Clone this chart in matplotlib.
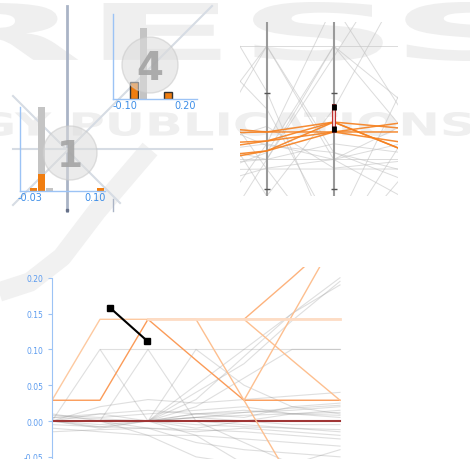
import matplotlib
matplotlib.use('Agg')
import matplotlib.pyplot as plt
import numpy as np
from matplotlib.patches import Circle, Rectangle, PathPatch
from matplotlib.textpath import TextPath
from matplotlib.font_manager import FontProperties
from matplotlib.transforms import Affine2D

nan = np.nan

# ---- data ----
# histogram "1"
h1_centers = [-0.023, -0.007, 0.009, 0.111]
h1_all = [0, 25, 1, 0]
h1_sel = [1, 5, 0, 1]
h1_ticks = [-0.03, 0.10]
h1_labels = ['-0.03', '0.10']

# histogram "4"
h4_all_centers = [-0.0075]
h4_all = [21]
h4_sel_centers = [-0.055, 0.115]
h4_sel = [5, 2]
h4_ticks = [-0.10, 0.20]
h4_labels = ['-0.10', '0.20']

# parallel coordinates (normalised value on each axis)
pc_axes = [0, 1, 2, 3]
pc_orange = [
    [0.36, 0.368, 0.425, 0.39],
    [0.40, 0.368, 0.368, 0.31],
    [0.30, 0.316, 0.425, 0.27],
    [0.26, 0.316, 0.368, 0.42],
    [0.22, 0.259, 0.368, 0.368],
    [0.19, 0.259, 0.425, 0.27],
]
pc_gray = [
    [0.862, 0.862, 0.862, 0.862],
    [0.35, 0.862, 0.21, 0.40],
    [0.20, 0.862, 0.25, 0.10],
    [0.30, 0.21, 0.862, 0.40],
    [0.10, 0.25, 0.862, 0.55],
    [0.21, 0.21, 0.21, 0.21],
    [0.15, 0.155, 0.155, 0.155],
    [1.25, 0.60, -0.30, 0.30],
    [-0.25, 0.30, 1.10, 0.50],
    [0.25, 0.30, 0.21, 0.00],
    [0.45, 0.29, 0.25, 0.15],
    [0.28, 0.40, 0.16, 0.20],
    [0.60, 0.00, 0.50, 1.20],
    [0.90, 0.50, -0.20, 0.60],
    [0.18, 0.21, 0.30, 0.25],
    [0.05, 0.16, 0.21, 0.30],
    [-0.40, 0.21, 0.80, 1.40],
    [0.70, 0.155, -0.35, 0.10],
]
pc_ticks = [0.592, 0.04]
brush = (0.368, 0.529)

# line chart
steps = [0, 1, 2, 3, 4, 5, 6]
orange_series = [
    [0.029, 0.142, 0.142, 0.142, 0.142, 0.142, 0.142],
    [0.029, 0.029, 0.142, 0.085, 0.029, 0.029, 0.029],
    [nan, nan, 0.142, 0.142, 0.029, -0.085, nan],
    [nan, nan, nan, nan, 0.029, 0.147, 0.265],
    [nan, nan, nan, nan, 0.142, 0.200, 0.260],
    [nan, nan, nan, nan, 0.142, 0.085, 0.029],
]
gray_series = [
    [0.000, 0.000, 0.000, 0.005, 0.008, 0.010, 0.012],
    [0.005, 0.003, 0.000, -0.005, -0.008, -0.010, -0.015],
    [-0.005, -0.008, 0.000, 0.010, 0.012, 0.015, 0.020],
    [0.010, 0.000, -0.010, -0.012, -0.015, -0.020, -0.025],
    [0.000, 0.100, 0.000, 0.010, 0.015, 0.010, 0.005],
    [0.000, 0.000, 0.100, 0.000, -0.005, -0.010, -0.012],
    [0.000, 0.000, 0.000, 0.100, 0.050, 0.020, 0.010],
    [nan, 0.100, 0.100, 0.100, 0.100, 0.100, 0.100],
    [0.000, 0.000, 0.000, 0.040, 0.080, 0.140, 0.195],
    [0.000, 0.000, 0.000, 0.030, 0.090, 0.150, 0.200],
    [0.000, -0.010, 0.000, 0.050, 0.100, 0.150, 0.190],
    [0.000, 0.000, -0.020, -0.050, -0.060, -0.070, -0.080],
    [-0.010, -0.015, -0.020, -0.020, -0.025, -0.030, -0.035],
    [0.005, 0.010, 0.015, 0.010, 0.005, 0.020, 0.025],
    [-0.015, -0.012, -0.010, -0.030, -0.040, -0.045, -0.050],
    [0.000, 0.020, 0.030, 0.025, 0.030, 0.035, 0.040],
    [0.000, 0.000, 0.000, -0.010, 0.000, 0.010, 0.015],
    [0.000, -0.005, 0.000, 0.005, 0.000, -0.005, -0.005],
    [0.000, 0.000, 0.000, 0.020, 0.060, 0.100, 0.100],
    [0.000, 0.000, 0.000, -0.020, -0.060, -0.060, -0.040],
    [0.000, 0.010, 0.000, 0.005, 0.012, 0.018, 0.022],
    [0.000, -0.008, -0.010, -0.015, -0.010, -0.015, -0.020],
    [0.000, 0.000, 0.000, 0.000, -0.030, -0.060, -0.080],
    [0.008, 0.005, 0.010, 0.015, 0.020, 0.010, 0.008],
]
baseline = [0, 0, 0, 0, 0, 0, 0]
drag_x = [1.21, 1.98]
drag_y = [0.158, 0.112]
y_ticks = [-0.05, 0.00, 0.05, 0.10, 0.15, 0.20]

# ---- figure ----
W, H = 470, 460
fig = plt.figure(figsize=(4.7, 4.6), dpi=100)

def px_axes(x0, y0, x1, y1, z=2):
    ax = fig.add_axes([x0 / W, 1 - y1 / H, (x1 - x0) / W, (y1 - y0) / H], zorder=z)
    ax.patch.set_alpha(0)
    return ax

bg = fig.add_axes([0, 0, 1, 1], zorder=0)
bg.set_xlim(0, W)
bg.set_ylim(H, 0)
bg.axis('off')

# watermark
def wide_text(s, x0, x1, ytop, ybot, color):
    tp = TextPath((0, 0), s, size=100, prop=FontProperties(family='DejaVu Sans', weight='bold'))
    bb = tp.get_extents()
    tr = Affine2D().translate(-bb.x0, -bb.y0).scale((x1 - x0) / bb.width, -(ybot - ytop) / bb.height).translate(x0, ybot)
    bg.add_patch(PathPatch(tr.transform_path(tp), fc=color, ec='none', zorder=0))

wm = '#efefef'
wide_text('RESS', -70, 535, 3, 62, wm)
wide_text('GY PUBLICATIONS', -22, 472, 113, 137, wm)
bg.plot([150, 97, 62, 30, -10], [150, 212, 258, 283, 296], color='#f1f1f1', lw=14,
        solid_capstyle='butt', zorder=0)

# star of guide lines behind the small multiples
bg.plot([67, 67], [7, 212], color='#aab4c6', lw=2, zorder=1)
bg.plot([13, 212], [150, 150], color='#d6dce4', lw=1.5, zorder=1)
bg.plot([212, 13], [7, 206], color='#d6dce4', lw=1.5, zorder=1)
bg.plot([13, 120], [97, 204], color='#d6dce4', lw=1.5, zorder=1)
bg.plot([113, 113], [200, 212], color='#aab4c6', lw=1, zorder=1)
bg.plot([67], [211], 's', color='#667088', ms=2, zorder=1)

blue = '#3d8ee8'
lblue = '#9cc3f5'

def hist_style(ax, ticks, labels, xlim):
    ax.set_xlim(*xlim)
    ax.set_ylim(0, 25)
    for s in ['top', 'right']:
        ax.spines[s].set_visible(False)
    for s in ['left', 'bottom']:
        ax.spines[s].set_color(lblue)
        ax.spines[s].set_linewidth(1)
    ax.set_yticks([])
    ax.set_xticks(ticks)
    ax.set_xticklabels(labels)
    ax.tick_params(axis='x', length=0, pad=1, labelsize=7, labelcolor=blue)

a1 = px_axes(20, 108, 105, 192)
a1.bar(h1_centers, h1_all, width=0.014, color='#c4c4c4', zorder=1)
a1.bar(h1_centers, h1_sel, width=0.014, color='#f07d10', zorder=2)
hist_style(a1, h1_ticks, h1_labels, (-0.05, 0.12))

a4 = px_axes(113, 15, 197, 100)
a4.bar(h4_all_centers, h4_all, width=0.035, color='#c4c4c4', zorder=1)
a4.bar(h4_sel_centers, h4_sel, width=0.04, color='#f07d10', edgecolor='#333333', lw=1, zorder=2)
hist_style(a4, h4_ticks, h4_labels, (-0.16, 0.26))

# numbered circles
top = fig.add_axes([0, 0, 1, 1], zorder=3)
top.set_xlim(0, W)
top.set_ylim(H, 0)
top.axis('off')
for (cx, cy, r, lab, fs) in [(70, 154, 27, '1', 27), (150, 66, 28, '4', 28)]:
    top.add_patch(Circle((cx, cy), r, fc='#dcdcdc', ec='#c8c8c8', alpha=0.55, lw=1))
    top.text(cx, cy + 3, lab, ha='center', va='center', fontsize=fs, fontweight='bold',
             color='#a4a4a4', alpha=0.9)

# parallel coordinates
pc = px_axes(240, 23, 398, 197)
pc.set_xlim(0.6, 2.96)
pc.set_ylim(0, 1)
pc.axis('off')
for row in pc_gray:
    pc.plot(pc_axes, row, color='#c4c4c4', lw=0.7, alpha=0.6)
pc.vlines([1, 2], 0, 1, color='#9a9a9a', lw=1.5)
for t in pc_ticks:
    pc.plot([1, 2], [t, t], '_', color='#555555', ms=5, mew=1)
for row in pc_orange:
    pc.plot(pc_axes, row, color='#f5801f', lw=1.1, alpha=0.9)
pc.add_patch(Rectangle((2 - 0.025, brush[0]), 0.05, brush[1] - brush[0],
                       fc='#f3d6d6', ec='#c03030', lw=0.8, zorder=5))
pc.plot([2, 2], [brush[0], brush[0] + 0.035], color='k', lw=3.5, solid_capstyle='butt', zorder=6)
pc.plot([2, 2], [brush[1] - 0.035, brush[1]], color='k', lw=3.5, solid_capstyle='butt', zorder=6)

# line chart
ax = px_axes(52, 268, 352, 460)
for row in gray_series:
    ax.plot(steps, row, color='#8c8c8c', lw=0.8, alpha=0.28)
ax.plot(steps, baseline, color='#a03535', lw=1.5)
light = ['#fdc9a0', '#fb9b58', '#fdbf8f', '#fdbf8f', '#fdb27c', '#fdbf8f']
for row, c in zip(orange_series, light):
    ax.plot(steps, row, color=c, lw=1.0)
ax.plot(steps[2:], orange_series[0][2:], color='#fddcc4', lw=2)
ax.plot(drag_x, drag_y, color='black', lw=1.5, marker='s', ms=5)
ax.set_xlim(0, 6.25)
ax.set_ylim(-0.053, 0.215)
for s in ['top', 'right', 'bottom']:
    ax.spines[s].set_visible(False)
ax.spines['left'].set_color(lblue)
ax.spines['left'].set_bounds(-0.053, 0.20)
ax.set_xticks([])
ax.set_yticks(y_ticks)
ax.set_yticklabels(['%.2f' % v for v in y_ticks])
ax.tick_params(axis='y', length=3, width=0.8, color=lblue, labelsize=5.5, labelcolor='#5b9bef', pad=3)

fig.savefig('out.png', dpi=100)
